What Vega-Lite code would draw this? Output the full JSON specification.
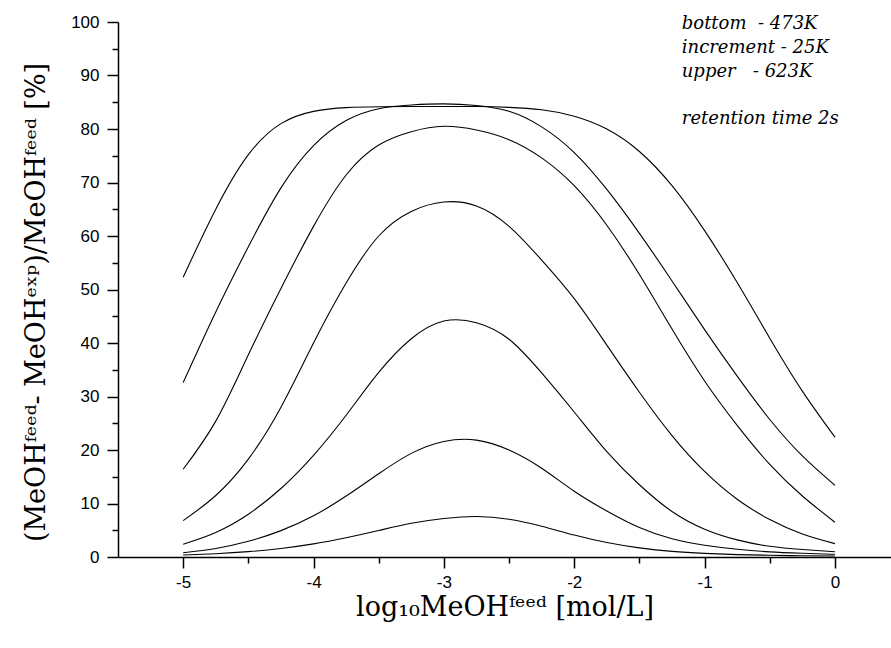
{
  "$schema": "https://vega.github.io/schema/vega-lite/v6.json",
  "width": 773,
  "height": 535,
  "autosize": {"type": "none"},
  "padding": {"left": 118, "top": 22, "right": 0, "bottom": 91},
  "background": "white",
  "config": {
    "view": {"stroke": null},
    "axis": {
      "grid": false,
      "domainColor": "black",
      "domainWidth": 1.5,
      "tickColor": "black",
      "tickWidth": 1.5,
      "labelFont": "Liberation Sans",
      "labelFontSize": 17,
      "labelColor": "black",
      "titleFont": "DejaVu Serif",
      "titleFontWeight": "normal",
      "titleColor": "black",
      "titleFontSize": 27
    }
  },
  "datasets": {
    "curves": [
      {"T":473,"x":-5,"y":0.37},{"T":473,"x":-4.75,"y":0.62},{"T":473,"x":-4.5,"y":1.0},{"T":473,"x":-4.25,"y":1.6},{"T":473,"x":-4,"y":2.45},{"T":473,"x":-3.75,"y":3.6},{"T":473,"x":-3.5,"y":4.95},{"T":473,"x":-3.25,"y":6.3},{"T":473,"x":-3,"y":7.2},{"T":473,"x":-2.75,"y":7.58},{"T":473,"x":-2.5,"y":7.05},{"T":473,"x":-2.25,"y":5.75},{"T":473,"x":-2,"y":4.1},{"T":473,"x":-1.75,"y":2.7},{"T":473,"x":-1.5,"y":1.7},{"T":473,"x":-1.25,"y":1.05},{"T":473,"x":-1,"y":0.68},{"T":473,"x":-0.75,"y":0.45},{"T":473,"x":-0.5,"y":0.32},{"T":473,"x":-0.25,"y":0.24},{"T":473,"x":0,"y":0.18},
      {"T":498,"x":-5,"y":0.8},{"T":498,"x":-4.75,"y":1.6},{"T":498,"x":-4.5,"y":2.93},{"T":498,"x":-4.25,"y":4.93},{"T":498,"x":-4,"y":7.7},{"T":498,"x":-3.75,"y":11.39},{"T":498,"x":-3.5,"y":15.57},{"T":498,"x":-3.25,"y":19.37},{"T":498,"x":-3,"y":21.6},{"T":498,"x":-2.75,"y":21.85},{"T":498,"x":-2.5,"y":20.0},{"T":498,"x":-2.25,"y":16.6},{"T":498,"x":-2,"y":12.3},{"T":498,"x":-1.75,"y":8.6},{"T":498,"x":-1.5,"y":5.5},{"T":498,"x":-1.25,"y":3.4},{"T":498,"x":-1,"y":2.2},{"T":498,"x":-0.75,"y":1.45},{"T":498,"x":-0.5,"y":0.95},{"T":498,"x":-0.25,"y":0.7},{"T":498,"x":0,"y":0.5},
      {"T":523,"x":-5,"y":2.4},{"T":523,"x":-4.75,"y":4.6},{"T":523,"x":-4.5,"y":8.0},{"T":523,"x":-4.25,"y":12.8},{"T":523,"x":-4,"y":19.0},{"T":523,"x":-3.75,"y":26.5},{"T":523,"x":-3.5,"y":34.5},{"T":523,"x":-3.25,"y":40.8},{"T":523,"x":-3,"y":44.1},{"T":523,"x":-2.75,"y":43.8},{"T":523,"x":-2.5,"y":40.7},{"T":523,"x":-2.25,"y":34.4},{"T":523,"x":-2,"y":27.1},{"T":523,"x":-1.75,"y":19.7},{"T":523,"x":-1.5,"y":13.5},{"T":523,"x":-1.25,"y":8.5},{"T":523,"x":-1,"y":5.2},{"T":523,"x":-0.75,"y":3.2},{"T":523,"x":-0.5,"y":2.0},{"T":523,"x":-0.25,"y":1.4},{"T":523,"x":0,"y":0.97},
      {"T":548,"x":-5,"y":6.8},{"T":548,"x":-4.75,"y":11.5},{"T":548,"x":-4.5,"y":18.3},{"T":548,"x":-4.25,"y":28.0},{"T":548,"x":-4,"y":40.0},{"T":548,"x":-3.75,"y":51.2},{"T":548,"x":-3.5,"y":60.0},{"T":548,"x":-3.25,"y":64.6},{"T":548,"x":-3,"y":66.35},{"T":548,"x":-2.75,"y":65.6},{"T":548,"x":-2.5,"y":61.8},{"T":548,"x":-2.25,"y":55.5},{"T":548,"x":-2,"y":48.3},{"T":548,"x":-1.75,"y":39.6},{"T":548,"x":-1.5,"y":30.8},{"T":548,"x":-1.25,"y":22.7},{"T":548,"x":-1,"y":16.0},{"T":548,"x":-0.75,"y":10.8},{"T":548,"x":-0.5,"y":7.0},{"T":548,"x":-0.25,"y":4.3},{"T":548,"x":0,"y":2.5},
      {"T":573,"x":-5,"y":16.4},{"T":573,"x":-4.75,"y":25.4},{"T":573,"x":-4.5,"y":37.8},{"T":573,"x":-4.25,"y":50.2},{"T":573,"x":-4,"y":61.8},{"T":573,"x":-3.75,"y":71.4},{"T":573,"x":-3.5,"y":77.0},{"T":573,"x":-3.25,"y":79.5},{"T":573,"x":-3,"y":80.5},{"T":573,"x":-2.75,"y":79.8},{"T":573,"x":-2.5,"y":78.0},{"T":573,"x":-2.25,"y":74.6},{"T":573,"x":-2,"y":69.4},{"T":573,"x":-1.75,"y":62.0},{"T":573,"x":-1.5,"y":52.8},{"T":573,"x":-1.25,"y":42.6},{"T":573,"x":-1,"y":32.9},{"T":573,"x":-0.75,"y":24.6},{"T":573,"x":-0.5,"y":17.3},{"T":573,"x":-0.25,"y":11.4},{"T":573,"x":0,"y":6.5},
      {"T":598,"x":-5,"y":32.6},{"T":598,"x":-4.75,"y":45.8},{"T":598,"x":-4.5,"y":58.0},{"T":598,"x":-4.25,"y":69.0},{"T":598,"x":-4,"y":76.9},{"T":598,"x":-3.75,"y":81.6},{"T":598,"x":-3.5,"y":83.8},{"T":598,"x":-3.25,"y":84.5},{"T":598,"x":-3,"y":84.7},{"T":598,"x":-2.75,"y":84.4},{"T":598,"x":-2.5,"y":83.3},{"T":598,"x":-2.25,"y":80.4},{"T":598,"x":-2,"y":75.6},{"T":598,"x":-1.75,"y":68.7},{"T":598,"x":-1.5,"y":60.5},{"T":598,"x":-1.25,"y":51.6},{"T":598,"x":-1,"y":42.5},{"T":598,"x":-0.75,"y":33.8},{"T":598,"x":-0.5,"y":25.7},{"T":598,"x":-0.25,"y":18.9},{"T":598,"x":0,"y":13.4},
      {"T":623,"x":-5,"y":52.3},{"T":623,"x":-4.75,"y":65.0},{"T":623,"x":-4.5,"y":75.2},{"T":623,"x":-4.25,"y":81.0},{"T":623,"x":-4,"y":83.3},{"T":623,"x":-3.75,"y":84.0},{"T":623,"x":-3.5,"y":84.15},{"T":623,"x":-3.25,"y":84.2},{"T":623,"x":-3,"y":84.2},{"T":623,"x":-2.75,"y":84.2},{"T":623,"x":-2.5,"y":84.05},{"T":623,"x":-2.25,"y":83.6},{"T":623,"x":-2,"y":82.4},{"T":623,"x":-1.75,"y":80.0},{"T":623,"x":-1.5,"y":75.8},{"T":623,"x":-1.25,"y":69.4},{"T":623,"x":-1,"y":61.0},{"T":623,"x":-0.75,"y":51.3},{"T":623,"x":-0.5,"y":40.9},{"T":623,"x":-0.25,"y":31.0},{"T":623,"x":0,"y":22.4}
    ],
    "notes": [
      {"label": "bottom\u00a0\u00a0- 473K", "x": -1.175, "y": 98.6},
      {"label": "increment - 25K", "x": -1.175, "y": 94.26},
      {"label": "upper\u00a0\u00a0\u00a0- 623K", "x": -1.175, "y": 89.8},
      {"label": "retention time 2s", "x": -1.175, "y": 80.9}
    ]
  },
  "resolve": {"axis": {"x": "independent", "y": "independent"}},
  "layer": [
    {
      "data": {"name": "curves"},
      "mark": {"type": "line", "color": "black", "strokeWidth": 1.1, "interpolate": "natural", "clip": true},
      "encoding": {
        "x": {
          "field": "x", "type": "quantitative",
          "scale": {"domain": [-5.5, 0.43], "nice": false, "zero": false},
          "axis": {
            "orient": "bottom",
            "values": [-5, -4, -3, -2, -1, 0],
            "tickSize": 11,
            "labelPadding": 6,
            "labelExpr": "datum.value < 0 ? '-' + abs(datum.value) : datum.label",
            "title": "log₁₀MeOHᶠᵉᵉᵈ [mol/L]",
            "titlePadding": 4
          }
        },
        "y": {
          "field": "y", "type": "quantitative",
          "scale": {"domain": [0, 100], "nice": false},
          "axis": {
            "orient": "left",
            "values": [0, 10, 20, 30, 40, 50, 60, 70, 80, 90, 100],
            "tickSize": 11,
            "labelPadding": 8,
            "title": "(MeOHᶠᵉᵉᵈ- MeOHᵉˣᵖ)/MeOHᶠᵉᵉᵈ [%]",
            "titlePadding": 20,
            "titleY": 280
          }
        },
        "detail": {"field": "T", "type": "nominal"}
      }
    },
    {
      "data": {"name": "notes"},
      "mark": {"type": "text", "align": "left", "baseline": "alphabetic", "font": "DejaVu Serif", "fontStyle": "italic", "fontSize": 18, "color": "black"},
      "encoding": {
        "x": {
          "field": "x", "type": "quantitative",
          "scale": {"domain": [-5.5, 0.43], "nice": false, "zero": false},
          "axis": {"orient": "bottom", "values": [-4.5, -3.5, -2.5, -1.5, -0.5], "tickSize": 6, "labels": false, "domain": false, "title": null}
        },
        "y": {
          "field": "y", "type": "quantitative",
          "scale": {"domain": [0, 100], "nice": false},
          "axis": {"orient": "left", "values": [5, 15, 25, 35, 45, 55, 65, 75, 85, 95], "tickSize": 6, "labels": false, "domain": false, "title": null}
        },
        "text": {"field": "label", "type": "nominal"}
      }
    }
  ]
}
